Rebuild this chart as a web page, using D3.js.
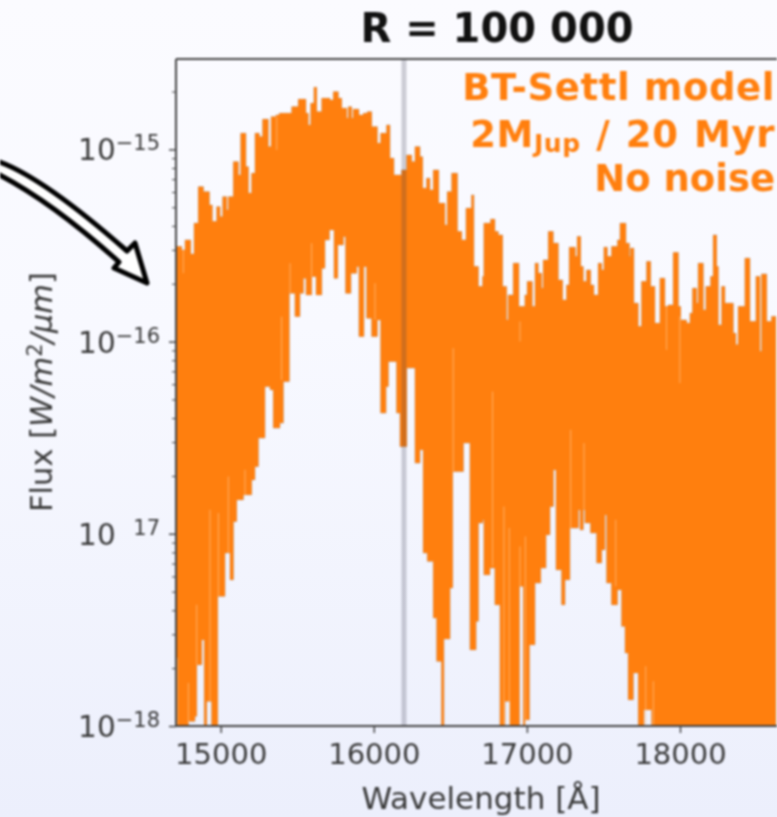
<!DOCTYPE html>
<html><head><meta charset="utf-8">
<script src="https://cdn.jsdelivr.net/npm/d3@7"></script>
<style>
html,body{margin:0;padding:0;width:777px;height:817px;overflow:hidden;background:linear-gradient(#fbfbff 0%,#f8f9ff 40%,#eceffc 100%);}
svg{display:block;filter:blur(0.8px);font-family:"DejaVu Sans",sans-serif;}
</style></head><body><script>
const title = "R = 100 000";
const yExponents = [-15,-16,-17,-18];
const xTicks = [15000,16000,17000,18000];
const lineWave = 16197;
const upperWave = [14708,14745,14767,14804,14826,14854,14887,14926,14945,14974,14996,15013,15039,15050,15083,15115,15131,15165,15181,15202,15224,15252,15274,15311,15329,15361,15383,15464,15507,15557,15572,15588,15609,15627,15660,15714,15736,15768,15790,15823,15834,15855,15866,15903,15932,15958,15986,16023,16045,16084,16106,16132,16182,16215,16247,16269,16302,16319,16345,16367,16389,16424,16465,16480,16509,16546,16574,16602,16639,16654,16683,16711,16719,16763,16791,16813,16841,16867,16878,16911,16948,16987,17002,17035,17053,17074,17096,17107,17140,17172,17205,17233,17259,17277,17316,17329,17351,17368,17390,17416,17438,17466,17488,17503,17525,17553,17592,17608,17647,17669,17677,17699,17727,17749,17782,17808,17836,17869,17901,17923,17956,17989,18004,18043,18065,18082,18108,18119,18152,18169,18200,18217,18239,18250,18272,18293,18348,18365,18380,18424,18457,18496,18522,18533,18566,18598,18626];
const upperExp = [-15.505,-15.523,-15.471,-15.544,-15.384,-15.194,-15.220,-15.289,-15.375,-15.298,-15.350,-15.246,-15.315,-15.246,-15.064,-15.133,-14.916,-15.090,-15.228,-15.124,-14.916,-14.934,-14.843,-14.986,-14.830,-14.821,-14.812,-14.778,-14.739,-14.812,-14.873,-14.760,-14.677,-14.804,-14.734,-14.743,-14.700,-14.734,-14.786,-14.838,-14.778,-14.838,-14.791,-14.821,-14.812,-14.804,-14.882,-14.968,-14.916,-14.873,-15.046,-15.133,-15.107,-15.029,-15.064,-14.986,-15.038,-15.202,-15.150,-15.211,-15.107,-15.280,-15.393,-15.220,-15.124,-15.427,-15.471,-15.306,-15.237,-15.609,-15.713,-15.661,-15.384,-15.363,-15.427,-15.445,-15.713,-15.887,-15.757,-15.592,-15.817,-15.757,-15.687,-15.817,-15.592,-15.644,-15.722,-15.575,-15.427,-15.488,-15.679,-15.783,-15.705,-15.509,-15.557,-15.453,-15.609,-15.687,-15.627,-15.705,-15.757,-15.592,-15.627,-15.509,-15.557,-15.505,-15.471,-15.384,-15.488,-15.557,-15.514,-15.800,-15.921,-15.687,-15.583,-15.713,-15.904,-15.670,-15.817,-15.809,-15.537,-15.817,-15.887,-15.904,-15.852,-15.722,-15.800,-15.592,-15.835,-15.713,-15.661,-15.445,-15.609,-15.913,-15.713,-15.800,-15.956,-16.017,-15.817,-15.566,-15.895,-15.661,-16.051,-15.648,-15.895,-15.869,-16.086];
const lowerWave = [14708,14789,14832,14843,14876,14893,14908,14941,14980,15028,15061,15083,15104,15148,15202,15224,15246,15289,15322,15344,15387,15409,15448,15485,15518,15540,15557,15594,15623,15660,15681,15710,15740,15764,15801,15816,15851,15888,15903,15936,15953,15986,16023,16045,16080,16095,16149,16171,16215,16269,16302,16323,16350,16389,16411,16443,16458,16498,16515,16585,16628,16668,16683,16711,16719,16759,16791,16824,16857,16890,16951,16977,16987,17016,17053,17090,17125,17151,17173,17190,17227,17249,17281,17336,17347,17368,17379,17416,17456,17488,17510,17521,17553,17591,17619,17641,17662,17695,17728,17765,17815];
const lowerExp = [-18.5,-17.975,-17.949,-17.681,-17.551,-18.5,-17.871,-18.5,-17.325,-17.100,-17.239,-16.936,-16.823,-16.797,-16.719,-16.650,-16.502,-16.234,-16.251,-16.450,-16.424,-16.208,-15.748,-15.869,-15.748,-15.670,-15.757,-15.661,-15.757,-15.618,-15.471,-15.419,-15.670,-15.497,-15.453,-15.748,-15.644,-15.609,-15.973,-15.609,-15.878,-15.973,-15.887,-16.372,-16.234,-16.103,-16.372,-16.546,-16.138,-16.632,-16.563,-17.100,-17.143,-17.438,-17.663,-18.5,-17.547,-17.282,-16.676,-16.528,-17.603,-17.455,-16.944,-16.927,-17.213,-17.178,-17.369,-18.5,-17.871,-18.5,-17.273,-18.5,-17.967,-17.577,-17.256,-17.178,-17.005,-16.858,-16.667,-17.187,-17.369,-17.239,-16.970,-16.875,-16.979,-16.875,-16.944,-16.996,-17.152,-17.083,-16.901,-17.256,-17.369,-17.291,-17.481,-17.620,-17.863,-17.724,-18.5,-17.915,-18.5];
const sliverWave = [14717,14789,14843,14930,14985,15050,15159,16519,16776,16850,16885,16955,16990,17286,17373,17580,17776,17826,17999,16955,17912,15453,15398,15594,16008,14756,15366,16519];
const sliverTop = [-17.646,-17.776,-17.369,-16.875,-16.892,-16.702,-16.667,-16.199,-16.260,-16.858,-16.970,-17.066,-17.014,-16.459,-16.528,-16.927,-17.689,-17.767,-15.869,-15.895,-15.817,-15.592,-15.870,-15.488,-15.696,-15.523,-14.830,-16.034];
const sliverBottom = [-17.993,-17.984,-17.681,-17.871,-17.325,-17.100,-16.797,-16.676,-17.169,-17.993,-17.993,-17.273,-17.993,-16.970,-16.875,-17.273,-17.993,-17.993,-16.216,-15.999,-16.043,-15.748,-16.199,-15.661,-15.887,-15.644,-15.003,-16.199];

const orange = "#ff7f0e", ink = "#3a3a3a";
const W = 777, H = 817;
const plot = {left:176, right:900, top:59, bottom:726};
const x = d3.scaleLinear().domain([15000,18000]).range([220.7,680]);
const y = d3.scaleLog().domain([1e-18,1e-15]).range([726,149.4]);
const pow = e => Math.pow(10,e);

const svg = d3.select("body").append("svg").attr("width",W).attr("height",H);
svg.append("defs").append("clipPath").attr("id","pc").append("rect")
  .attr("x",plot.left).attr("y",plot.top).attr("width",plot.right-plot.left).attr("height",plot.bottom-plot.top);

// step lookup over the union of both wavelength grids
const grid = Array.from(new Set(upperWave.concat(lowerWave))).sort(d3.ascending);
const stepAt = (ws,vs,w) => vs[Math.max(0,d3.bisectRight(ws,w)-1)];
const rows = grid.map(w => ({w, hi:stepAt(upperWave,upperExp,w), lo:stepAt(lowerWave,lowerExp,w)}));
const area = d3.area().curve(d3.curveStepAfter)
  .x(d=>x(d.w)).y0(d=>y(pow(d.lo))).y1(d=>y(pow(d.hi)));

const g = svg.append("g").attr("clip-path","url(#pc)");
g.append("path").attr("d",area(rows)).attr("fill",orange).attr("stroke","#8f8f8f").attr("stroke-width",0.6).attr("stroke-opacity",0.75);
g.append("path").attr("d",area(rows)).attr("fill",orange);
g.selectAll("line.sl").data(sliverWave).join("line").attr("class","sl")
  .attr("x1",d=>x(d)).attr("x2",d=>x(d))
  .attr("y1",(d,i)=>y(pow(sliverTop[i]))).attr("y2",(d,i)=>y(pow(sliverBottom[i])))
  .attr("stroke","#ffc890").attr("stroke-width",0.9).attr("stroke-opacity",0.75);
g.append("line").attr("x1",x(lineWave)).attr("x2",x(lineWave)).attr("y1",plot.top).attr("y2",plot.bottom)
  .attr("stroke","#3c3c50").attr("stroke-opacity",0.24).attr("stroke-width",5);

// axes
const xAxis = d3.axisBottom(x).tickValues(xTicks).tickSize(7).tickPadding(10).tickFormat(d3.format("d"));
const gx = svg.append("g").attr("transform",`translate(0,${plot.bottom})`).call(xAxis);
gx.select(".domain").remove();
gx.selectAll("line").attr("stroke",ink).attr("stroke-width",1.4);
gx.selectAll("text").attr("fill",ink).attr("font-size",29).attr("font-family","DejaVu Sans");

const minor = [];
yExponents.concat([-14]).forEach(e=>{ for(let k=2;k<=9;k++){ const v=k*pow(e-1); if(v>1e-18 && v<pow(-14.53)) minor.push(v);} });
const gy2 = svg.append("g").attr("transform",`translate(${plot.left},0)`).call(d3.axisLeft(y).tickValues(minor).tickSize(4).tickFormat(""));
gy2.select(".domain").remove();
gy2.selectAll("line").attr("stroke",ink).attr("stroke-width",1);
const gy = svg.append("g").attr("transform",`translate(${plot.left},0)`).call(d3.axisLeft(y).tickValues(yExponents.map(pow)).tickSize(7).tickFormat(""));
gy.select(".domain").remove();
gy.selectAll("line").attr("stroke",ink).attr("stroke-width",1.4);

const yl = svg.selectAll("text.yl").data(yExponents).join("text").attr("class","yl")
  .attr("x",160).attr("y",d=>y(pow(d))+11).attr("text-anchor","end").attr("fill",ink).attr("font-size",29.5);
yl.append("tspan").text("10");
yl.append("tspan").attr("dy",-10).attr("font-size",21).attr("fill-opacity",d=>d===-17?0:1).text("\u2212");
yl.append("tspan").attr("font-size",21).text(d=>Math.abs(d));

// spines
svg.append("line").attr("x1",plot.left).attr("x2",W).attr("y1",plot.top).attr("y2",plot.top).attr("stroke","#444").attr("stroke-width",2);
svg.append("line").attr("x1",plot.left).attr("x2",W).attr("y1",plot.bottom).attr("y2",plot.bottom).attr("stroke","#444").attr("stroke-width",2);
svg.append("line").attr("x1",plot.left).attr("x2",plot.left).attr("y1",plot.top).attr("y2",plot.bottom).attr("stroke","#444").attr("stroke-width",2);

// titles
svg.append("text").attr("x",497).attr("y",42).attr("text-anchor","middle").attr("font-weight","bold").attr("font-size",40).attr("fill","#111").text(title);
svg.append("text").attr("x",481).attr("y",809).attr("text-anchor","middle").attr("fill",ink).attr("font-size",31).text("Wavelength [\u00C5]");
const yt = svg.append("text").attr("transform","translate(52,392) rotate(-90)").attr("text-anchor","middle").attr("fill",ink).attr("font-size",30.5);
yt.append("tspan").text("Flux [");
yt.append("tspan").attr("font-style","italic").text("W/m");
yt.append("tspan").attr("dy",-10).attr("font-size",21).text("2");
yt.append("tspan").attr("dy",10).attr("font-style","italic").text("/\u03BCm");
yt.append("tspan").text("]");

// annotation
const note = svg.append("g").attr("fill",orange).attr("font-weight","bold").attr("font-size",37).attr("text-anchor","end");
note.append("text").attr("x",775).attr("y",100).attr("letter-spacing",0.6).text("BT-Settl model");
const n2 = note.append("text").attr("x",775).attr("y",147).attr("letter-spacing",0.6).attr("word-spacing",2);
n2.append("tspan").text("2M");
n2.append("tspan").attr("font-size",25).attr("dy",5).text("Jup");
n2.append("tspan").attr("dy",-5).text(" / 20 Myr");
note.append("text").attr("x",775).attr("y",191).text("No noise");

// callout arrow
svg.append("path").attr("d","M-6,160 C20,168 60,192 127,251 L135,243 L147,283 L114,268 L119,262 C70,218 30,190 -6,172 Z")
  .attr("fill","#fff").attr("stroke","#000").attr("stroke-width",5).attr("stroke-linejoin","round");
</script></body></html>
